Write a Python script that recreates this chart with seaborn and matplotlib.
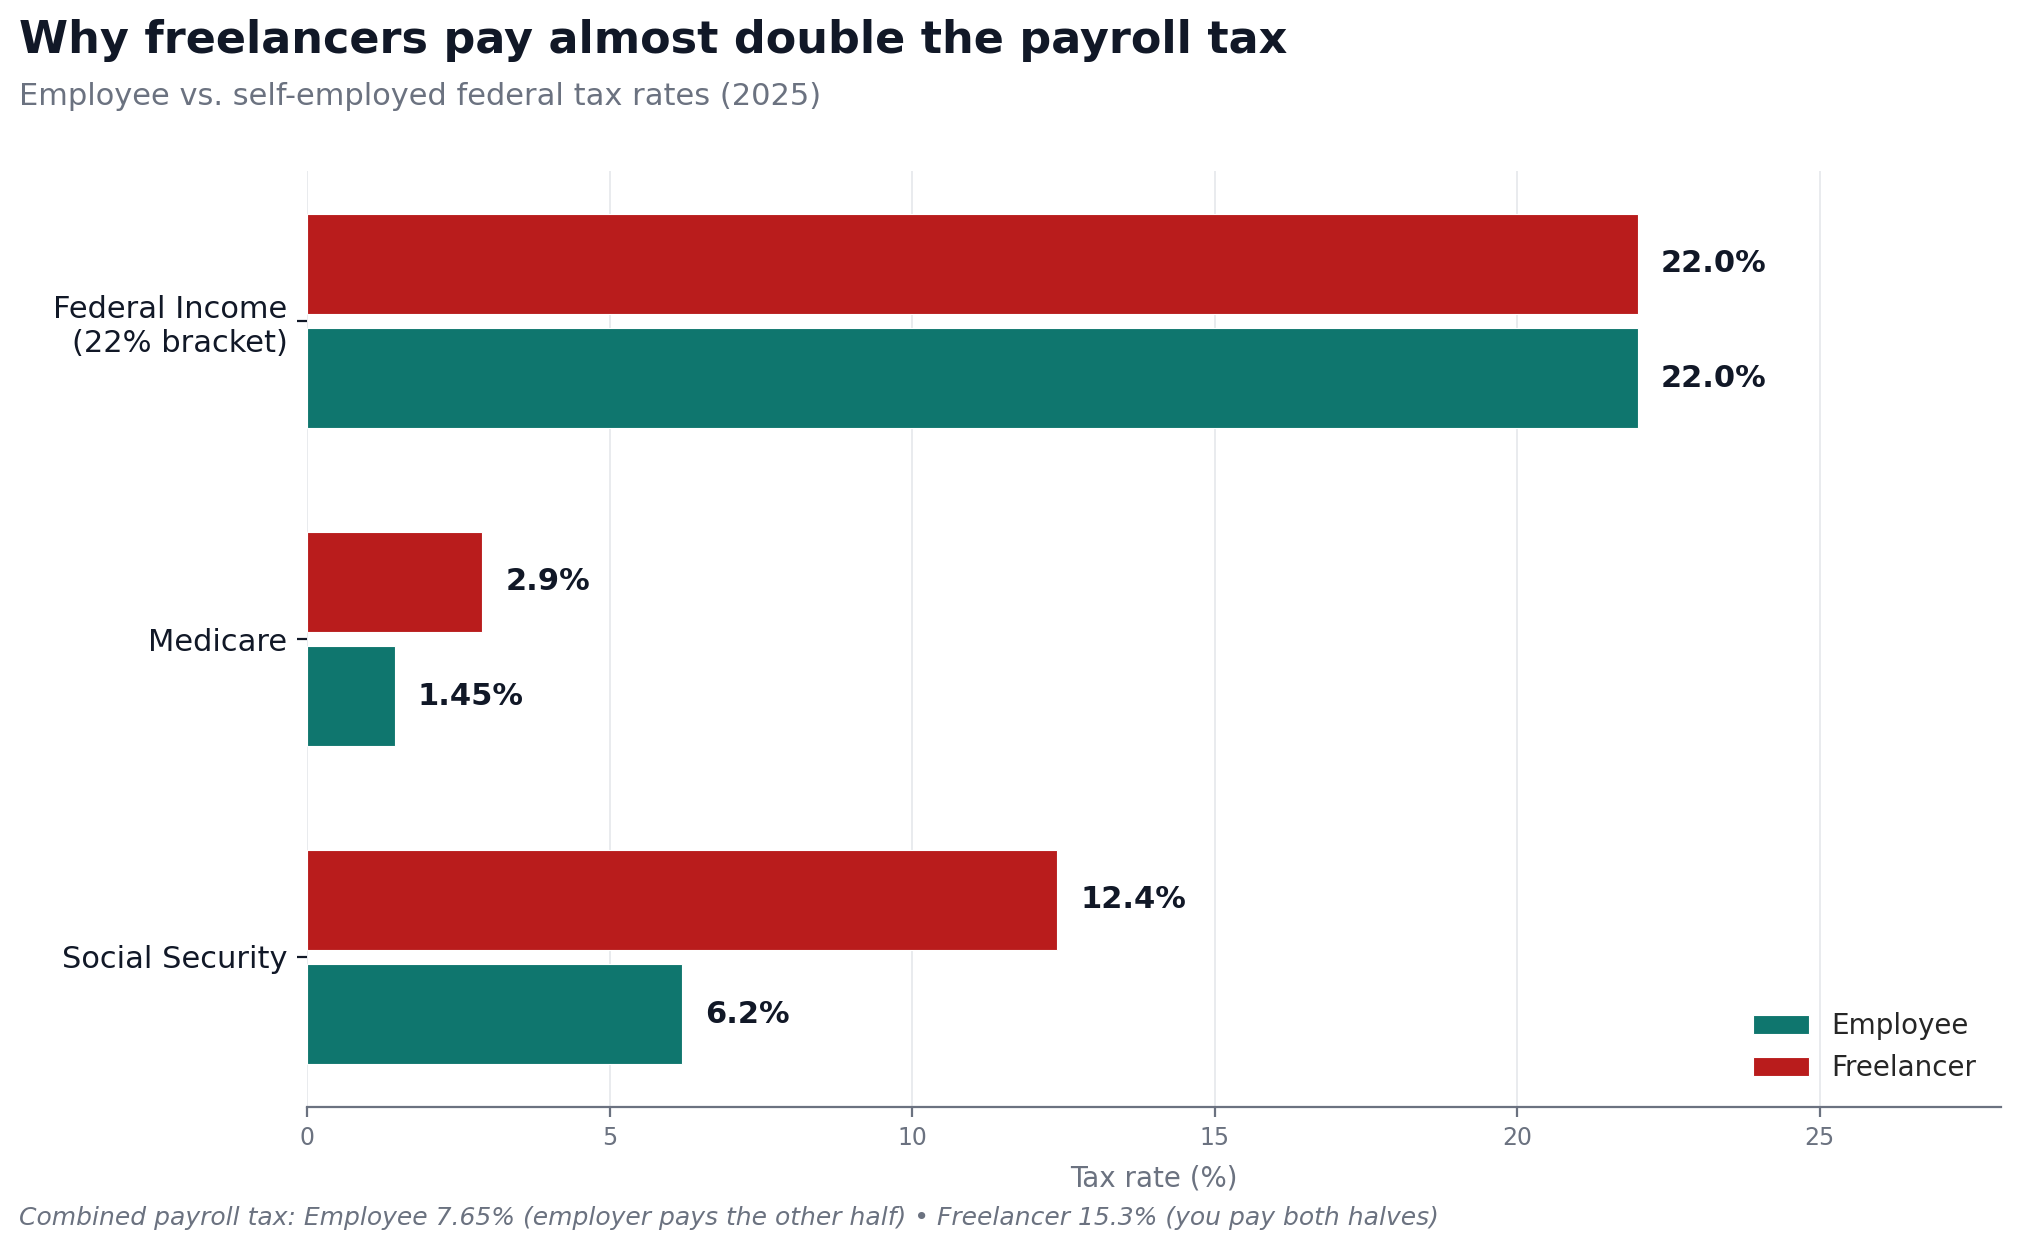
import pandas as pd
import seaborn as sns
import matplotlib

matplotlib.use("Agg")
import matplotlib.pyplot as plt

# Tax rates (%)
categories = ["Federal Income\n(22% bracket)", "Medicare", "Social Security"]
employee_rates = [22.0, 1.45, 6.2]
freelancer_rates = [22.0, 2.9, 12.4]
worker_types = ["Employee", "Freelancer"]

title = "Why freelancers pay almost double the payroll tax"
subtitle = "Employee vs. self-employed federal tax rates (2025)"
footer = ("Combined payroll tax: Employee 7.65% (employer pays the other half) "
          "\u2022 Freelancer 15.3% (you pay both halves)")

TEAL = "#0f766e"
RED = "#b91c1c"
DARK = "#111827"
GRAY = "#6b7280"
GRID = "#e5e7eb"


def fmt_rate(v):
    if round(v, 1) == v:
        return f"{v:.1f}%"
    return f"{v:.2f}%"


def main():
    df = pd.DataFrame({
        "category": categories * 2,
        "type": ["Employee"] * len(categories) + ["Freelancer"] * len(categories),
        "rate": employee_rates + freelancer_rates,
    })

    sns.set_theme(style="white")
    plt.rcParams["font.family"] = ["DejaVu Sans"]

    fig, ax = plt.subplots(figsize=(10.1, 6.245), dpi=200)
    fig.subplots_adjust(left=0.152, right=0.9906, top=0.863, bottom=0.1137)

    # Freelancer drawn first in each group so it sits on top
    sns.barplot(
        data=df, y="category", x="rate", hue="type",
        order=categories, hue_order=["Freelancer", "Employee"],
        palette={"Employee": TEAL, "Freelancer": RED}, saturation=1,
        orient="h", width=0.72, gap=0.125,
        edgecolor="white", linewidth=0.4, ax=ax,
    )

    for container in ax.containers:
        vals = [bar.get_width() for bar in container]
        ax.bar_label(container, labels=[fmt_rate(v) for v in vals], padding=8.3,
                     fontsize=11, fontweight="bold", color=DARK)

    ax.set_xlim(0, 28)
    ax.set_ylim(2.472, -0.472)
    ax.set_xticks([0, 5, 10, 15, 20, 25])

    ax.set_ylabel("")
    ax.set_xlabel("Tax rate (%)", fontsize=10, color=GRAY, labelpad=5)

    ax.xaxis.grid(True, color=GRID, linewidth=0.6)
    ax.set_axisbelow(True)

    for side in ["top", "right", "left"]:
        ax.spines[side].set_visible(False)
    ax.spines["bottom"].set_color(GRAY)
    ax.spines["bottom"].set_linewidth(0.8)

    ax.tick_params(axis="x", colors=GRAY, labelsize=8.5, length=3.5, width=0.8,
                   bottom=True)
    ax.tick_params(axis="y", colors=DARK, labelsize=11, length=3.5, width=0.8,
                   left=True)

    handles, labels = ax.get_legend_handles_labels()
    order = [labels.index(t) for t in worker_types]
    ax.legend([handles[i] for i in order], [labels[i] for i in order],
              loc="lower right", frameon=False, fontsize=10, title=None)

    fig.text(0.0095, 0.9576, title, fontsize=16, fontweight="bold", color=DARK,
             ha="left", va="baseline")
    fig.text(0.0095, 0.9159, subtitle, fontsize=11, color=GRAY,
             ha="left", va="baseline")
    fig.text(0.0095, 0.0192, footer, fontsize=9, style="italic", color=GRAY,
             ha="left", va="baseline")

    fig.savefig("out.png", dpi=200)
    plt.close(fig)


if __name__ == "__main__":
    main()
